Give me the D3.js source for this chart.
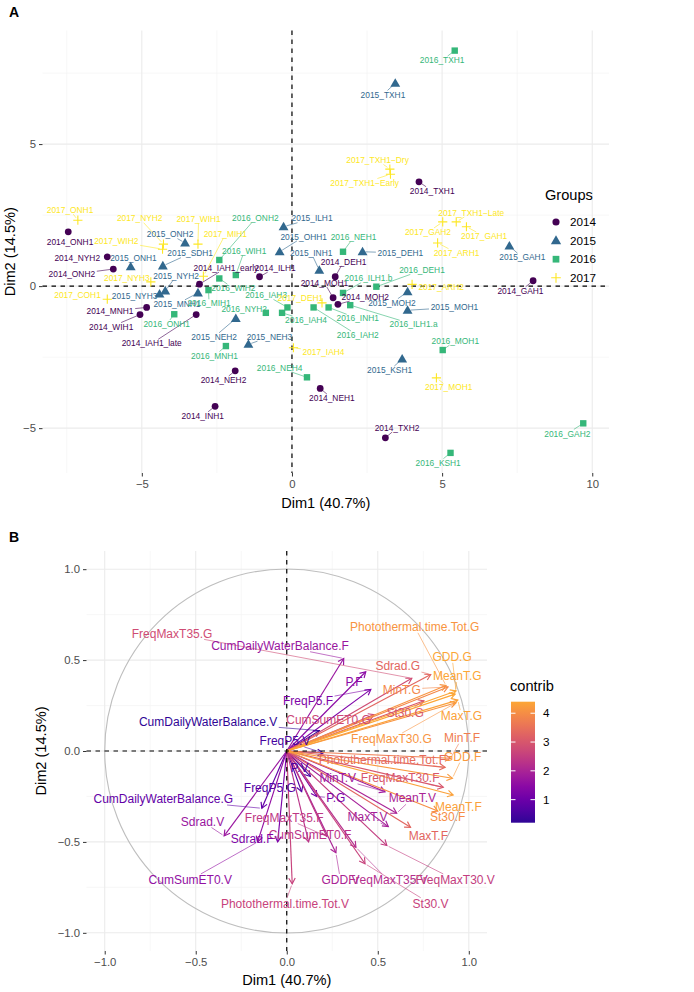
<!DOCTYPE html>
<html><head><meta charset="utf-8">
<script src="https://cdn.jsdelivr.net/npm/d3@7"></script>
<style>body{margin:0;background:#fff} text{font-family:"Liberation Sans",Arial,Helvetica,sans-serif}</style>
</head><body><svg id="c" width="694" height="992"></svg>
<script>
// ---------------- DATA ----------------
const groups = ["2014","2015","2016","2017"];
const groupColors = ["#440154","#31688E","#35B779","#FDE725"];
// [label, Dim1, Dim2, labelDim1, labelDim2]
const ind2014 = [
 ["2014_ONH1",-7.45,1.91,-7.39,1.56],["2014_NYH2",-6.15,1.03,-7.15,0.98],["2014_ONH2",-5.95,0.60,-7.33,0.41],
 ["2014_MNH1",-4.84,-0.75,-6.06,-0.88],["2014_WIH1",-5.06,-1.00,-6.02,-1.43],["2014_IAH1_late",-3.19,-1.00,-4.67,-2.02],
 ["2014_IAH1_early",-3.08,0.07,-2.20,0.64],["2014_ILH1",-1.08,0.33,-0.56,0.64],["2014_NEH2",-1.89,-2.98,-2.28,-3.31],
 ["2014_INH1",-2.56,-4.23,-2.97,-4.57],["2014_NEH1",0.94,-3.60,1.33,-3.95],["2014_TXH2",3.11,-5.34,3.50,-4.99],
 ["2014_TXH1",4.23,3.67,4.67,3.35],["2014_GAH1",8.03,0.19,7.61,-0.17],["2014_DEH1",1.44,0.33,1.72,0.86],
 ["2014_MOH1",1.37,-0.41,1.08,0.12],["2014_MOH2",1.53,-0.64,2.44,-0.38]
];
const ind2015 = [
 ["2015_TXH1",3.44,7.14,3.03,6.74],["2015_GAH1",7.24,1.41,7.67,1.01],["2015_DEH1",2.35,1.21,3.61,1.17],
 ["2015_INH1",0.91,0.56,0.64,1.17],["2015_MOH2",3.85,-0.20,3.33,-0.59],["2015_MOH1",3.85,-0.85,5.41,-0.75],
 ["2015_KSH1",3.67,-2.57,3.25,-2.96],["2015_NEH3",-1.45,-2.05,-0.75,-1.79],["2015_NEH2",-1.87,-1.14,-2.59,-1.79],
 ["2015_ILH1",-0.28,2.09,0.67,2.38],["2015_OHH1",-0.41,1.21,0.39,1.74],["2015_ONH2",-3.56,1.52,-4.06,1.82],
 ["2015_ONH1",-5.37,0.68,-5.28,0.98],["2015_SDH1",-4.30,0.71,-3.39,1.15],["2015_NYH2",-4.22,-0.17,-3.86,0.35],
 ["2015_NYH3",-4.41,-0.28,-5.24,-0.34],["2015_MNH1",-3.13,-0.24,-3.83,-0.63]
];
const ind2016 = [
 ["2016_TXH1",5.42,8.29,5.00,7.95],["2016_GAH2",9.70,-4.83,9.17,-5.19],["2016_KSH1",5.28,-5.87,4.87,-6.22],
 ["2016_MOH1",5.02,-2.25,5.44,-1.93],["2016_NEH4",0.50,-3.21,-0.41,-2.88],["2016_MNH1",-2.20,-2.11,-2.58,-2.45],
 ["2016_ONH1",-3.92,-0.99,-4.17,-1.34],["2016_MIH1",-2.78,-0.14,-2.76,-0.61],["2016_NYH2",-0.87,-0.94,-1.59,-0.82],
 ["2016_IAH3",-0.15,-0.75,-0.86,-0.32],["2016_IAH4",-0.33,-0.94,0.47,-1.20],["2016_IAH2",0.72,-0.75,2.19,-1.73],
 ["2016_INH1",1.22,-0.75,2.19,-1.14],["2016_ILH1.a",1.94,-0.67,4.05,-1.35],["2016_ILH1.b",1.70,-0.24,2.55,0.27],
 ["2016_DEH1",2.81,-0.02,4.33,0.56],["2016_NEH1",1.70,1.21,2.05,1.71],["2016_ONH2",-2.42,0.92,-1.22,2.38],
 ["2016_WIH1",-1.87,0.39,-1.59,1.23],["2016_WIH2",-2.42,0.27,-1.95,-0.08]
];
const ind2017 = [
 ["2017_ONH1",-7.13,2.32,-7.39,2.68],["2017_NYH2",-4.28,1.48,-5.07,2.38],["2017_WIH2",-4.31,1.30,-5.85,1.58],
 ["2017_NYH3",-4.70,0.15,-5.50,0.27],["2017_COH1",-6.15,-0.46,-7.14,-0.32],["2017_WIH1",-3.13,1.48,-3.11,2.35],
 ["2017_MIH1",-2.95,0.35,-2.22,1.82],["2017_DEH1",1.00,-0.59,0.28,-0.43],["2017_IAH4",0.05,-2.17,1.05,-2.31],
 ["2017_MOH1",4.81,-3.23,5.22,-3.57],["2017_ARH2",4.00,0.06,4.97,-0.02],["2017_ARH1",4.85,1.52,5.48,1.17],
 ["2017_GAH2",5.02,2.26,4.53,1.90],["2017_TXH1\u2212Late",5.47,2.26,5.97,2.58],["2017_GAH1",5.81,2.09,6.40,1.76],
 ["2017_TXH1\u2212Dry",3.26,4.12,2.85,4.43],["2017_TXH1\u2212Early",3.28,3.94,2.42,3.64]
];
const indByGroup = [ind2014, ind2015, ind2016, ind2017];
const ticksAx = [-5,0,5,10];
const ticksAy = [-5,0,5];
const minorAx = [-7.5,-2.5,2.5,7.5];
const minorAy = [-2.5,2.5,7.5];

// [variable, Dim1, Dim2, contrib, labelDim1, labelDim2]
const varCoords = [
 ["Photothermal.time.Tot.G",0.875,0.36,4.1,0.703,0.683],["GDD.G",0.93,0.33,4.4,0.908,0.518],
 ["MeanT.G",0.925,0.313,4.4,0.937,0.412],["MinT.G",0.886,0.352,3.9,0.632,0.339],
 ["MaxT.G",0.94,0.28,4.3,0.96,0.192],["Sdrad.G",0.791,0.421,3.3,0.61,0.467],
 ["FreqMaxT35.G",0.687,0.40,2.8,-0.63,0.647],["St30.G",0.754,0.276,3.0,0.65,0.21],
 ["FreqMaxT30.G",0.93,0.265,4.1,0.575,0.066],["CumSumET0.G",0.48,0.2,2.7,0.23,0.174],
 ["P.G",0.165,-0.25,1.2,0.27,-0.26],["FreqP5.G",0.082,-0.224,0.7,-0.093,-0.2],
 ["CumDailyWaterBalance.G",-0.137,-0.315,0.9,-0.678,-0.264],["MinT.F",0.90,-0.04,3.7,0.963,0.073],
 ["GDD.F",0.91,-0.15,4.2,0.966,-0.031],["Photothermal.time.Tot.F",0.87,-0.09,3.4,0.525,-0.049],
 ["FreqMaxT30.F",0.86,-0.20,3.0,0.623,-0.15],["MeanT.F",0.914,-0.242,4.3,0.943,-0.306],
 ["St30.F",0.83,-0.33,4.0,0.884,-0.364],["MaxT.F",0.68,-0.42,3.3,0.778,-0.467],
 ["FreqMaxT35.F",0.22,-0.47,2.4,-0.014,-0.366],["CumSumET0.F",0.12,-0.50,2.3,0.128,-0.462],
 ["Sdrad.F",-0.05,-0.50,1.3,-0.19,-0.484],["P.F",0.434,0.436,1.5,0.37,0.38],
 ["FreqP5.F",0.462,0.339,1.3,0.117,0.275],["CumDailyWaterBalance.F",0.313,0.509,1.7,-0.037,0.579],
 ["MinT.V",0.54,-0.224,1.8,0.28,-0.15],["MeanT.V",0.604,-0.342,2.0,0.69,-0.26],
 ["MaxT.V",0.558,-0.416,1.9,0.444,-0.364],["GDD.V",0.27,-0.56,2.0,0.295,-0.709],
 ["FreqMaxT35.V",0.38,-0.53,2.2,0.556,-0.709],["FreqMaxT30.V",0.55,-0.52,2.5,0.925,-0.709],
 ["St30.V",0.43,-0.62,2.6,0.79,-0.84],["Photothermal.time.Tot.V",0.03,-0.73,2.6,-0.01,-0.84],
 ["Sdrad.V",-0.344,-0.467,1.7,-0.463,-0.388],["CumSumET0.V",-0.16,-0.50,1.6,-0.53,-0.709],
 ["P.V",0.13,-0.14,0.6,0.07,-0.09],["FreqP5.V",0.2,-0.01,0.5,-0.01,0.055],
 ["CumDailyWaterBalance.V",0.179,0.112,0.2,-0.432,0.161]
];
const ticksB = [-1,-0.5,0,0.5,1];
const minorB = [-0.75,-0.25,0.25,0.75];
const contribTicks = [1,2,3,4];
const dimLabelX = "Dim1 (40.7%)", dimLabelY = "Dim2 (14.5%)";

// ---------------- DRAW ----------------
const svg = d3.select("#c");
const FONT = '"Liberation Sans",Arial,Helvetica,sans-serif';
const gridMajor = "#EBEBEB", gridMinor = "#F4F4F4", tickCol = "#4D4D4D";

function labelWithSegment(layer, segLayer, txt, px, py, lx, ly, color, fs, opts={}) {
  const t = layer.append("text").attr("x",lx).attr("y",ly).attr("dy","0.35em")
    .attr("text-anchor","middle").attr("font-size",fs).attr("fill",color).text(txt);
  const bb = t.node().getBBox();
  const hw = bb.width/2 + 1.5, hh = fs*0.5;
  const dx = px-lx, dy = py-ly;
  const s = Math.min(Math.abs(dx)>1e-6 ? hw/Math.abs(dx) : Infinity, Math.abs(dy)>1e-6 ? hh/Math.abs(dy) : Infinity);
  if (s >= 1) return;
  const sx = lx+dx*s, sy = ly+dy*s;
  const len = Math.hypot(px-sx, py-sy);
  const pad = opts.pad ?? 3;
  if (len - pad < (opts.minLen ?? 5)) return;
  const ex = px-(px-sx)/len*pad, ey = py-(py-sy)/len*pad;
  segLayer.append("line").attr("x1",sx).attr("y1",sy).attr("x2",ex).attr("y2",ey)
    .attr("stroke",color).attr("stroke-width",opts.sw ?? 0.6);
}

// ===== Panel A =====
const allInd = indByGroup.flat();
const xExt = d3.extent(allInd, d=>d[1]), yExt = d3.extent(allInd, d=>d[2]);
const xPad = (xExt[1]-xExt[0])*0.05, yPad = (yExt[1]-yExt[0])*0.05;
const xA = d3.scaleLinear().domain([xExt[0]-xPad, xExt[1]+xPad]).range([42.5, 609]);
const yA = d3.scaleLinear().domain([yExt[0]-yPad, yExt[1]+yPad]).range([473, 30.5]);
const gA = svg.append("g");
minorAx.forEach(v=>gA.append("line").attr("x1",xA(v)).attr("x2",xA(v)).attr("y1",yA.range()[1]).attr("y2",yA.range()[0]).attr("stroke",gridMinor).attr("stroke-width",0.7));
minorAy.forEach(v=>gA.append("line").attr("y1",yA(v)).attr("y2",yA(v)).attr("x1",xA.range()[0]).attr("x2",xA.range()[1]).attr("stroke",gridMinor).attr("stroke-width",0.7));
ticksAx.forEach(v=>gA.append("line").attr("x1",xA(v)).attr("x2",xA(v)).attr("y1",yA.range()[1]).attr("y2",yA.range()[0]).attr("stroke",gridMajor).attr("stroke-width",1.1));
ticksAy.forEach(v=>gA.append("line").attr("y1",yA(v)).attr("y2",yA(v)).attr("x1",xA.range()[0]).attr("x2",xA.range()[1]).attr("stroke",gridMajor).attr("stroke-width",1.1));
const axA_x = d3.axisBottom(xA).tickValues(ticksAx).tickSize(3.5).tickPadding(3).tickFormat(d=>d<0?"\u2212"+(-d):d);
const axA_y = d3.axisLeft(yA).tickValues(ticksAy).tickSize(3.5).tickPadding(3).tickFormat(d=>d<0?"\u2212"+(-d):d);
function styleAxis(g){ g.select(".domain").remove(); g.selectAll("line").attr("stroke","#333").attr("stroke-width",1);
  g.selectAll("text").attr("fill",tickCol).attr("font-size",11.3).attr("font-family",FONT); }
gA.append("g").attr("transform",`translate(0,${yA.range()[0]})`).call(axA_x).call(styleAxis);
gA.append("g").attr("transform",`translate(${xA.range()[0]},0)`).call(axA_y).call(styleAxis);
gA.append("line").attr("x1",xA(0)).attr("x2",xA(0)).attr("y1",yA.range()[1]).attr("y2",yA.range()[0]).attr("stroke","#000").attr("stroke-width",1.2).attr("stroke-dasharray","4.5,4.5");
gA.append("line").attr("y1",yA(0)).attr("y2",yA(0)).attr("x1",xA.range()[0]).attr("x2",xA.range()[1]).attr("stroke","#000").attr("stroke-width",1.2).attr("stroke-dasharray","4.5,4.5");
function drawShape(g, gi, cx, cy, col, sc=1){
  if (gi===0) g.append("circle").attr("cx",cx).attr("cy",cy).attr("r",3.4*sc).attr("fill",col);
  else if (gi===1) g.append("path").attr("d",d3.symbol(d3.symbolTriangle, 42*sc*sc)()).attr("transform",`translate(${cx},${cy+0.6*sc})`).attr("fill",col);
  else if (gi===2) g.append("rect").attr("x",cx-3.2*sc).attr("y",cy-3.2*sc).attr("width",6.4*sc).attr("height",6.4*sc).attr("fill",col);
  else { const h=4.6*sc; g.append("path").attr("d",`M${cx-h},${cy}H${cx+h}M${cx},${cy-h}V${cy+h}`).attr("stroke",col).attr("stroke-width",1.1); }
}
const ptLayer = gA.append("g"), segA = gA.append("g"), txtA = gA.append("g");
indByGroup.forEach((arr,gi)=>arr.forEach(d=>drawShape(ptLayer, gi, xA(d[1]), yA(d[2]), groupColors[gi])));
indByGroup.forEach((arr,gi)=>arr.forEach(d=>labelWithSegment(txtA, segA, d[0], xA(d[1]), yA(d[2]), xA(d[3]), yA(d[4]), groupColors[gi], 8.4, {pad:3, minLen:4, sw:0.6})));
svg.append("text").attr("x",(xA.range()[0]+xA.range()[1])/2).attr("y",508).attr("text-anchor","middle").attr("font-size",14.6).text(dimLabelX);
svg.append("text").attr("transform",`translate(15,${(yA.range()[0]+yA.range()[1])/2}) rotate(-90)`).attr("text-anchor","middle").attr("font-size",14.6).text(dimLabelY);
svg.append("text").attr("x",9).attr("y",17).attr("font-size",14).attr("font-weight","bold").text("A");
const legA = svg.append("g").attr("transform","translate(545,0)");
legA.append("text").attr("x",0).attr("y",200).attr("font-size",14.6).text("Groups");
groups.forEach((gname,i)=>{ const cy = 222+i*18.6;
  drawShape(legA, i, 11, cy, groupColors[i], 1.05);
  legA.append("text").attr("x",25).attr("y",cy).attr("dy","0.35em").attr("font-size",11.7).attr("fill","#000").text(gname); });

// ===== Panel B =====
const xB = d3.scaleLinear().domain([-1.1,1.1]).range([86.5,487]);
const yB = d3.scaleLinear().domain([-1.1,1.1]).range([951,551]);
const gB = svg.append("g");
minorB.forEach(v=>{ gB.append("line").attr("x1",xB(v)).attr("x2",xB(v)).attr("y1",551).attr("y2",951).attr("stroke",gridMinor).attr("stroke-width",0.7);
  gB.append("line").attr("y1",yB(v)).attr("y2",yB(v)).attr("x1",86.5).attr("x2",487).attr("stroke",gridMinor).attr("stroke-width",0.7); });
ticksB.forEach(v=>{ gB.append("line").attr("x1",xB(v)).attr("x2",xB(v)).attr("y1",551).attr("y2",951).attr("stroke",gridMajor).attr("stroke-width",1.1);
  gB.append("line").attr("y1",yB(v)).attr("y2",yB(v)).attr("x1",86.5).attr("x2",487).attr("stroke",gridMajor).attr("stroke-width",1.1); });
const fmtB = d=>{ const s=d3.format(".1f")(Math.abs(d)); return d<0?"\u2212"+s:s; };
gB.append("g").attr("transform","translate(0,951)").call(d3.axisBottom(xB).tickValues(ticksB).tickSize(3.5).tickPadding(3).tickFormat(fmtB)).call(styleAxis);
gB.append("g").attr("transform","translate(86.5,0)").call(d3.axisLeft(yB).tickValues(ticksB).tickSize(3.5).tickPadding(3).tickFormat(fmtB)).call(styleAxis);
gB.append("circle").attr("cx",xB(0)).attr("cy",yB(0)).attr("r",xB(1)-xB(0)).attr("fill","none").attr("stroke","#BEBEBE").attr("stroke-width",1.1);
const cExt = d3.extent(varCoords, d=>d[3]);
const cNorm = d3.scaleLinear().domain(cExt).range([0.06,0.8]);
const cCol = v => d3.interpolatePlasma(cNorm(v));
const arrL = gB.append("g");
const order = varCoords.slice().sort((a,b)=>a[3]-b[3]);
order.forEach(d=>{
  const x0=xB(0), y0=yB(0), x1=xB(d[1]), y1=yB(d[2]); const col=cCol(d[3]);
  const ang = Math.atan2(y1-y0, x1-x0), L=6.5, a=Math.PI/6;
  arrL.append("line").attr("x1",x0).attr("y1",y0).attr("x2",x1).attr("y2",y1).attr("stroke",col).attr("stroke-width",1.15);
  arrL.append("path").attr("d",`M${x1-L*Math.cos(ang-a)},${y1-L*Math.sin(ang-a)}L${x1},${y1}L${x1-L*Math.cos(ang+a)},${y1-L*Math.sin(ang+a)}`)
    .attr("fill","none").attr("stroke",col).attr("stroke-width",1.15);
});
gB.append("line").attr("x1",xB(0)).attr("x2",xB(0)).attr("y1",551).attr("y2",951).attr("stroke","#000").attr("stroke-width",1.2).attr("stroke-dasharray","4.5,4.5");
gB.append("line").attr("y1",yB(0)).attr("y2",yB(0)).attr("x1",86.5).attr("x2",487).attr("stroke","#000").attr("stroke-width",1.2).attr("stroke-dasharray","4.5,4.5");
const segB = gB.append("g"), txtB = gB.append("g");
varCoords.forEach(d=>labelWithSegment(txtB, segB, d[0], xB(d[1]), yB(d[2]), xB(d[4]), yB(d[5]), cCol(d[3]), 12, {pad:2, minLen:5, sw:0.6}));
svg.append("text").attr("x",286.75).attr("y",985).attr("text-anchor","middle").attr("font-size",14.6).text(dimLabelX);
svg.append("text").attr("transform",`translate(46,751) rotate(-90)`).attr("text-anchor","middle").attr("font-size",14.6).text(dimLabelY);
svg.append("text").attr("x",9).attr("y",542).attr("font-size",14).attr("font-weight","bold").text("B");
const defs = svg.append("defs");
const lg = defs.append("linearGradient").attr("id","cg").attr("x1",0).attr("y1",1).attr("x2",0).attr("y2",0);
d3.range(0,1.0001,0.1).forEach(t=>lg.append("stop").attr("offset",t).attr("stop-color",cCol(cExt[0]+t*(cExt[1]-cExt[0]))));
const barTop=701.7, barBot=822.7, barX=511, barW=24;
svg.append("text").attr("x",510).attr("y",691).attr("font-size",14.6).text("contrib");
svg.append("rect").attr("x",barX).attr("y",barTop).attr("width",barW).attr("height",barBot-barTop).attr("fill","url(#cg)");
const yC = d3.scaleLinear().domain(cExt).range([barBot,barTop]);
contribTicks.forEach(v=>{ const y=yC(v);
  svg.append("line").attr("x1",barX).attr("x2",barX+4.5).attr("y1",y).attr("y2",y).attr("stroke","#fff").attr("stroke-width",1);
  svg.append("line").attr("x1",barX+barW-4.5).attr("x2",barX+barW).attr("y1",y).attr("y2",y).attr("stroke","#fff").attr("stroke-width",1);
  svg.append("text").attr("x",543).attr("y",y).attr("dy","0.35em").attr("font-size",11.7).text(v); });
</script></body></html>
